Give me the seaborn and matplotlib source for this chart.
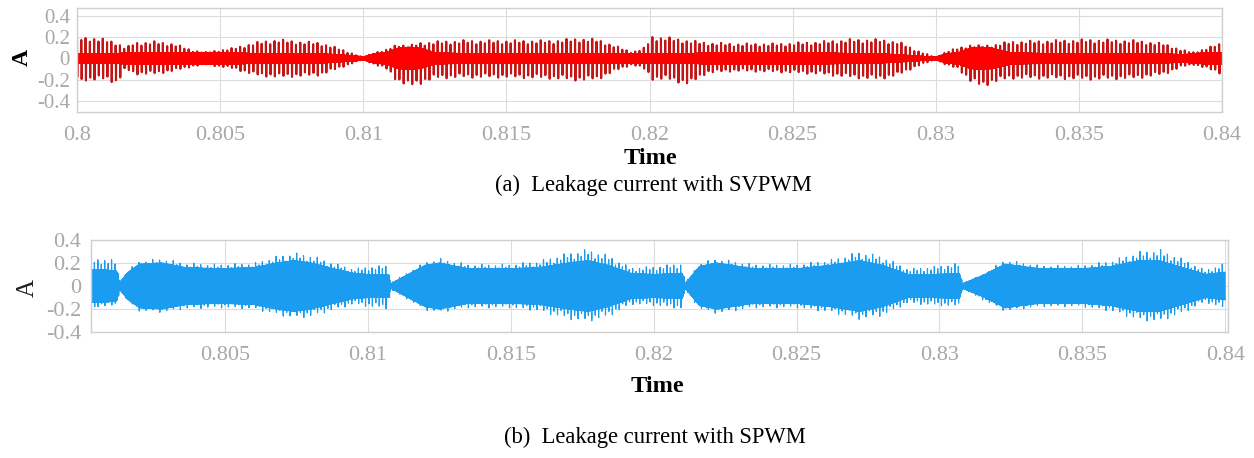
import numpy as np
import pandas as pd
import matplotlib
matplotlib.use("Agg")
import matplotlib.pyplot as plt
import seaborn as sns

# ---------------- data ----------------
# (a) SVPWM leakage current: envelope knots (time, spike top, spike bottom, dense core half-width)
svpwm_t = [0.8000, 0.8005, 0.8010, 0.8014, 0.8017, 0.8020, 0.8027, 0.8034, 0.8040, 0.8045,
           0.8050, 0.8055, 0.8062, 0.8070, 0.8078, 0.8085, 0.8091, 0.8097, 0.8100, 0.8104,
           0.8108, 0.8112, 0.8116, 0.8120, 0.8125, 0.8135, 0.8150, 0.8165, 0.8176, 0.8182,
           0.8188, 0.8194, 0.8198, 0.8201, 0.8206, 0.8214, 0.8220, 0.8230, 0.8245, 0.8260,
           0.8270, 0.8280, 0.8287, 0.8293, 0.8298, 0.8300, 0.8304, 0.8308, 0.8312, 0.8316,
           0.8320, 0.8326, 0.8340, 0.8355, 0.8370, 0.8380, 0.8386, 0.8390, 0.8395, 0.8400]
svpwm_up = [0.20, 0.20, 0.18, 0.15, 0.10, 0.15, 0.16, 0.14, 0.08, 0.06,
            0.08, 0.10, 0.15, 0.18, 0.16, 0.15, 0.10, 0.04, 0.01, 0.06,
            0.08, 0.14, 0.12, 0.15, 0.16, 0.17, 0.17, 0.17, 0.19, 0.18,
            0.12, 0.06, 0.10, 0.21, 0.20, 0.17, 0.15, 0.14, 0.14, 0.16,
            0.18, 0.18, 0.16, 0.08, 0.03, 0.01, 0.07, 0.10, 0.13, 0.12,
            0.13, 0.16, 0.17, 0.18, 0.17, 0.14, 0.08, 0.06, 0.10, 0.15]
svpwm_lo = [-0.20, -0.21, -0.20, -0.24, -0.10, -0.15, -0.15, -0.12, -0.08, -0.06,
            -0.08, -0.10, -0.16, -0.18, -0.17, -0.16, -0.10, -0.04, -0.01, -0.06,
            -0.10, -0.22, -0.27, -0.24, -0.19, -0.18, -0.18, -0.19, -0.21, -0.20,
            -0.12, -0.06, -0.10, -0.20, -0.20, -0.25, -0.14, -0.12, -0.13, -0.15,
            -0.18, -0.20, -0.16, -0.08, -0.03, -0.01, -0.07, -0.10, -0.22, -0.27,
            -0.23, -0.19, -0.19, -0.20, -0.19, -0.15, -0.08, -0.06, -0.10, -0.15]
svpwm_core = [0.04, 0.04, 0.04, 0.04, 0.05, 0.05, 0.05, 0.05, 0.05, 0.05,
              0.05, 0.05, 0.04, 0.04, 0.04, 0.04, 0.03, 0.02, 0.01, 0.04,
              0.05, 0.09, 0.10, 0.09, 0.05, 0.04, 0.04, 0.04, 0.04, 0.04,
              0.04, 0.04, 0.04, 0.04, 0.04, 0.04, 0.05, 0.05, 0.05, 0.05,
              0.04, 0.04, 0.03, 0.02, 0.01, 0.01, 0.04, 0.05, 0.09, 0.10,
              0.09, 0.05, 0.04, 0.04, 0.04, 0.04, 0.03, 0.04, 0.05, 0.05]

# (b) SPWM leakage current: envelope knots
spwm_t = [0.8003, 0.8008, 0.8012, 0.8013, 0.8016, 0.8020, 0.8028, 0.8036, 0.8048, 0.8060,
          0.8068, 0.8074, 0.8080, 0.8088, 0.8095, 0.8100, 0.8107, 0.8108, 0.8114, 0.8120,
          0.8125, 0.8135, 0.8150, 0.8160, 0.8170, 0.8177, 0.8184, 0.8192, 0.8200, 0.8210,
          0.8211, 0.8216, 0.8222, 0.8235, 0.8250, 0.8262, 0.8272, 0.8280, 0.8289, 0.8298,
          0.8307, 0.8308, 0.8315, 0.8323, 0.8335, 0.8350, 0.8360, 0.8370, 0.8377, 0.8385,
          0.8393, 0.8400]
spwm_up = [0.24, 0.24, 0.22, 0.04, 0.14, 0.22, 0.24, 0.20, 0.19, 0.20,
           0.26, 0.29, 0.27, 0.20, 0.15, 0.17, 0.18, 0.03, 0.12, 0.21,
           0.24, 0.19, 0.19, 0.22, 0.29, 0.32, 0.27, 0.16, 0.17, 0.20,
           0.03, 0.20, 0.24, 0.19, 0.19, 0.23, 0.30, 0.26, 0.15, 0.17,
           0.20, 0.02, 0.10, 0.23, 0.18, 0.18, 0.22, 0.30, 0.32, 0.24,
           0.14, 0.20]
spwm_lo = [-0.18, -0.18, -0.18, -0.04, -0.14, -0.22, -0.23, -0.20, -0.19, -0.20,
           -0.25, -0.28, -0.27, -0.21, -0.16, -0.18, -0.20, -0.03, -0.12, -0.21,
           -0.23, -0.19, -0.19, -0.22, -0.29, -0.31, -0.27, -0.16, -0.17, -0.20,
           -0.03, -0.20, -0.24, -0.19, -0.19, -0.23, -0.29, -0.26, -0.15, -0.17,
           -0.18, -0.02, -0.12, -0.22, -0.18, -0.18, -0.22, -0.30, -0.31, -0.24,
           -0.14, -0.20]
spwm_core = [0.14, 0.14, 0.13, 0.03, 0.12, 0.19, 0.20, 0.16, 0.15, 0.16,
             0.20, 0.22, 0.20, 0.15, 0.11, 0.10, 0.10, 0.02, 0.10, 0.18,
             0.20, 0.15, 0.15, 0.16, 0.20, 0.22, 0.18, 0.11, 0.10, 0.11,
             0.02, 0.17, 0.20, 0.15, 0.15, 0.18, 0.22, 0.18, 0.10, 0.10,
             0.11, 0.02, 0.09, 0.19, 0.15, 0.15, 0.17, 0.22, 0.22, 0.16,
             0.10, 0.12]

svpwm_period = 1.5e-4                                 # s, spacing of visible spikes (a)
spwm_period = 1.2e-4                                  # s, spacing of visible spikes (b)
spike_pattern = [1.0, 0.86, 0.95, 0.78, 0.92, 0.83]   # spike-to-spike height variation seen

x_ticks_a = [0.8, 0.805, 0.81, 0.815, 0.82, 0.825, 0.83, 0.835, 0.84]
x_labels_a = ["0.8", "0.805", "0.81", "0.815", "0.82", "0.825", "0.83", "0.835", "0.84"]
x_ticks_b = [0.805, 0.81, 0.815, 0.82, 0.825, 0.83, 0.835, 0.84]
x_labels_b = ["0.805", "0.81", "0.815", "0.82", "0.825", "0.83", "0.835", "0.84"]
y_ticks = [-0.4, -0.2, 0, 0.2, 0.4]
y_labels = ["-0.4", "-0.2", "0", "0.2", "0.4"]

caption_a = "(a)  Leakage current with SVPWM"
caption_b = "(b)  Leakage current with SPWM"


def waveform(knot_t, up, lo, core, t_start, t_end, period):
    """Spikes + dense ringing within each switching period, scaled by the read envelopes."""
    frac = np.array([0.0, 0.08, 0.16, 0.23, 0.30, 0.37, 0.44, 0.51,
                     0.58, 0.65, 0.72, 0.79, 0.86, 0.93])
    kind = np.array([1, -1, 2, -2, 2, -2, 2, -2, 2, -2, 2, -2, 2, -2])
    starts = np.arange(t_start, t_end, period)
    n = len(starts)
    pat = np.resize(np.array(spike_pattern), n)
    pat_lo = np.roll(pat, 2)
    tt = (starts[:, None] + frac[None, :] * period).ravel()
    kk = np.tile(kind, n)
    pu = np.repeat(pat, len(frac))
    pl = np.repeat(pat_lo, len(frac))
    ok = tt <= t_end
    tt, kk, pu, pl = tt[ok], kk[ok], pu[ok], pl[ok]
    U = np.interp(tt, knot_t, up) * pu
    L = np.interp(tt, knot_t, lo) * pl
    C = np.interp(tt, knot_t, core)
    y = np.where(kk == 1, U, np.where(kk == -1, L, np.where(kk == 2, C, -C)))
    return pd.DataFrame({"Time": tt, "A": y, "core": C})


df_a = waveform(svpwm_t, svpwm_up, svpwm_lo, svpwm_core, 0.8, 0.84, svpwm_period)
df_b = waveform(spwm_t, spwm_up, spwm_lo, spwm_core, 0.8003, 0.84, spwm_period)
# bright inner part of the SVPWM trace (the dense band around zero)
df_a_core = df_a.assign(A=np.clip(df_a["A"], -df_a["core"], df_a["core"]))

# ---------------- drawing ----------------
sns.set_theme(style="white")
plt.rcParams["font.family"] = ["Liberation Serif", "DejaVu Serif"]

W, H = 1254, 458
fig = plt.figure(figsize=(W / 100, H / 100), dpi=100)
fig.patch.set_facecolor("white")


def px_axes(left, top, right, bottom):
    return fig.add_axes([left / W, 1 - bottom / H, (right - left) / W, (bottom - top) / H])


ax1 = px_axes(77, 8, 1222, 112)
ax2 = px_axes(91, 240, 1228, 332)

grey_txt = "#a8a8a8"
grid_c = "#dcdcdc"
spine_c = "#cfcfcf"

sns.lineplot(data=df_a, x="Time", y="A", ax=ax1, color="#c41414", linewidth=1.5,
             estimator=None, sort=False)
sns.lineplot(data=df_a_core, x="Time", y="A", ax=ax1, color="#ff0000", linewidth=1.2,
             estimator=None, sort=False)
sns.lineplot(data=df_b, x="Time", y="A", ax=ax2, color="#1a9cf0", linewidth=0.85,
             estimator=None, sort=False)

ax1.set_xlim(0.8, 0.84)
ax1.set_ylim(-0.5, 0.47)
ax2.set_xlim(0.8003, 0.8401)
ax2.set_ylim(-0.4, 0.4)

for ax, xt, xl in [(ax1, x_ticks_a, x_labels_a), (ax2, x_ticks_b, x_labels_b)]:
    ax.set_xticks(xt)
    ax.set_xticklabels(xl)
    ax.set_yticks(y_ticks)
    ax.set_yticklabels(y_labels)
    ax.set_xlabel("")
    ax.set_ylabel("")
    ax.grid(True, color=grid_c, linewidth=0.8)
    ax.set_axisbelow(True)
    for s in ax.spines.values():
        s.set_color(spine_c)
        s.set_linewidth(1.0)
    ax.tick_params(axis="x", length=0, pad=10, labelsize=16, labelcolor=grey_txt)
    ax.tick_params(axis="y", length=0, pad=5, labelsize=15, labelcolor=grey_txt)

ax2.tick_params(axis="y", pad=7, labelsize=16)

# axis titles and captions
fig.text(650 / W, 1 - 158 / H, "Time", ha="center", va="center", fontsize=17.5,
         fontweight="bold", color="black")
fig.text(657 / W, 1 - 386 / H, "Time", ha="center", va="center", fontsize=17.5,
         fontweight="bold", color="black")
fig.text(22 / W, 1 - 58 / H, "A", ha="center", va="center", fontsize=17,
         fontweight="bold", rotation=90, color="black")
fig.text(28 / W, 1 - 288 / H, "A", ha="center", va="center", fontsize=18,
         rotation=90, color="#222222")
fig.text(653 / W, 1 - 185 / H, caption_a, ha="center", va="center", fontsize=16.3, color="black")
fig.text(655 / W, 1 - 437 / H, caption_b, ha="center", va="center", fontsize=16.3, color="black")

fig.savefig("out.png", dpi=100, facecolor="white")
